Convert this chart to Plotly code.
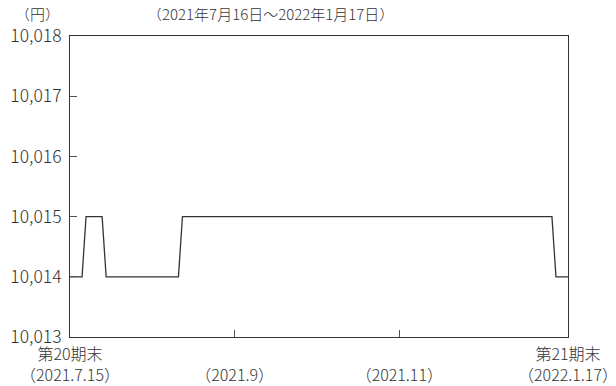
import plotly.graph_objects as go

# business-day index of each change point, and the price (円)
x_idx = [0, 3, 4, 8, 9, 27, 28, 120, 121, 124]
prices = [10014, 10014, 10015, 10015, 10014, 10014, 10015, 10015, 10014, 10014]

tick_pos = [0, 41, 82, 124]
tick_labels = ["第20期末<br>（2021.7.15）", "\u00a0<br>（2021.9）", "\u00a0<br>（2021.11）", "第21期末<br>（2022.1.17）"]
y_ticks = [10013, 10014, 10015, 10016, 10017, 10018]
y_labels = ["10,013", "10,014", "10,015", "10,016", "10,017", "10,018"]

FONT = "Noto Sans CJK JP"
TXT = "#333333"

fig = go.Figure()
fig.add_trace(go.Scatter(x=x_idx, y=prices, mode="lines",
                         line=dict(color="#333333", width=1.3),
                         hoverinfo="skip", showlegend=False))

fig.update_layout(
    width=608, height=378,
    margin=dict(l=62, r=48, t=28, b=49),
    paper_bgcolor="white", plot_bgcolor="white",
    font=dict(family=FONT, color=TXT, size=15),
    xaxis=dict(range=[0, 124], tickmode="array", tickvals=tick_pos, ticktext=tick_labels,
               ticks="inside", ticklen=7, tickcolor="#555555", tickwidth=1,
               showgrid=False, zeroline=False, showline=True, linecolor="#333333",
               linewidth=1, mirror=True, automargin=False, ticklabeloverflow="allow",
               ticklabelstandoff=3,
               tickfont=dict(size=16, color=TXT, weight=300)),
    yaxis=dict(range=[10013, 10018], tickmode="array", tickvals=y_ticks, ticktext=y_labels,
               ticks="inside", ticklen=7, tickcolor="#555555", tickwidth=1,
               showgrid=False, zeroline=False, showline=True, linecolor="#333333",
               linewidth=1, mirror=True, automargin=False, ticklabeloverflow="allow",
               ticklabelstandoff=4,
               tickfont=dict(size=17.5, color=TXT, weight=300)),
    annotations=[
        dict(text="（円）", xref="paper", yref="paper", x=(37 - 70) / 498, y=(337 - 14) / 301,
             xanchor="center", yanchor="middle", showarrow=False,
             font=dict(size=15, color=TXT, weight=300)),
        dict(text="（2021年7月16日～2022年1月17日）", xref="paper", yref="paper",
             x=(270 - 70) / 498, y=(337 - 14) / 301, xanchor="center", yanchor="middle",
             showarrow=False, font=dict(size=15, color=TXT, weight=300)),
    ],
)

fig.write_html("out.html")
